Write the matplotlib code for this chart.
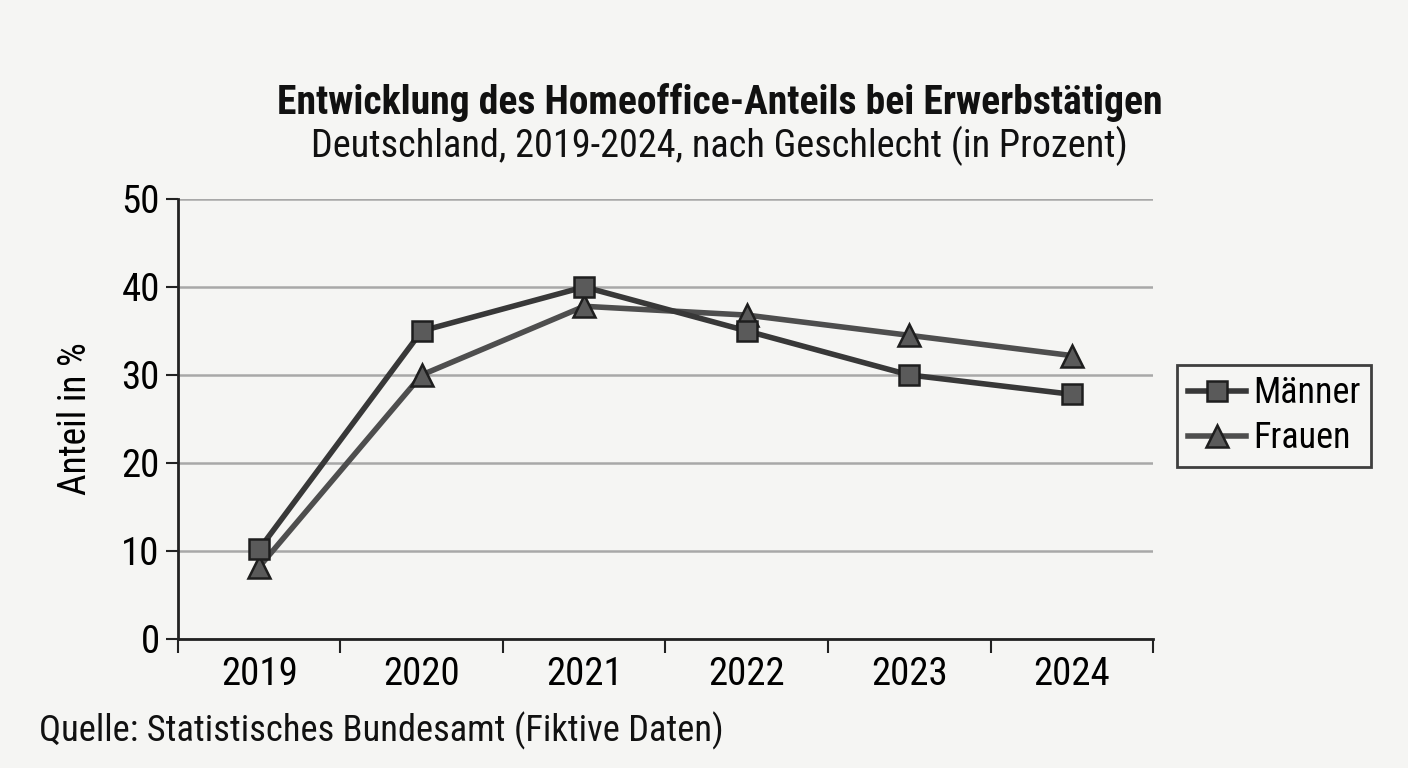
import matplotlib
matplotlib.use("Agg")
import matplotlib.pyplot as plt

# data
years = ["2019", "2020", "2021", "2022", "2023", "2024"]
maenner = [10.2, 35.0, 40.0, 35.0, 30.0, 27.8]
frauen = [8.2, 30.0, 37.8, 36.8, 34.5, 32.2]
y_ticks = [0, 10, 20, 30, 40, 50]

plt.rcParams['font.family'] = ['Liberation Sans Narrow', 'Roboto Condensed', 'Liberation Sans', 'DejaVu Sans']

bg = '#f5f5f3'
fig = plt.figure(figsize=(14.08, 7.68), dpi=100, facecolor=bg)
ax = fig.add_axes([0.1264, 0.168, 0.6925, 0.573])
ax.set_facecolor(bg)

x = list(range(len(years)))
ax.plot(x, maenner, color='#383838', lw=4, marker='s', ms=15,
        mfc='#5a5a5a', mec='#1e1e1e', mew=1.8, label='Männer', zorder=4)
ax.plot(x, frauen, color='#4e4e4e', lw=4, marker='^', ms=16,
        mfc='#5a5a5a', mec='#1e1e1e', mew=1.8, label='Frauen', zorder=3)

ax.set_xlim(-0.5, 5.5)
ax.set_ylim(0, 50)
ax.set_yticks(y_ticks)
ax.set_xticks([i + 0.5 for i in range(-1, 6)])
ax.set_xticklabels([])
ax.set_xticks(x, minor=True)
ax.set_xticklabels(years, minor=True)
ax.tick_params(axis='x', which='minor', length=0, pad=12, labelsize=28)
ax.tick_params(axis='x', which='major', length=10, width=1.5, color='#222')
ax.tick_params(axis='y', length=9, width=1.5, color='#222', labelsize=28, pad=4)

ax.yaxis.grid(True, color='#a8a8a8', lw=1.8)
ax.set_axisbelow(True)
for s in ['top', 'right']:
    ax.spines[s].set_visible(False)
ax.spines['left'].set_linewidth(2)
ax.spines['bottom'].set_linewidth(2)
ax.spines['left'].set_color('#222')
ax.spines['bottom'].set_color('#222')

ax.set_ylabel('Anteil in %', fontsize=27, labelpad=20)

leg = ax.legend(loc='center left', bbox_to_anchor=(1.0246, 0.507), fontsize=26,
                frameon=True, fancybox=False, edgecolor='#111', facecolor=bg,
                handlelength=1.6, handletextpad=0.2, borderpad=0.3, labelspacing=0.25,
                borderaxespad=0)
leg.get_frame().set_linewidth(2)

fig.text(0.511, 0.866, 'Entwicklung des Homeoffice-Anteils bei Erwerbstätigen',
         ha='center', va='center', fontsize=28.5, fontweight='bold', color='#111')
fig.text(0.511, 0.81, 'Deutschland, 2019-2024, nach Geschlecht (in Prozent)',
         ha='center', va='center', fontsize=27.5, color='#111')
fig.text(0.028, 0.048, 'Quelle: Statistisches Bundesamt (Fiktive Daten)',
         ha='left', va='center', fontsize=26.3, color='#111')

fig.savefig('out.png', dpi=100, facecolor=bg)
